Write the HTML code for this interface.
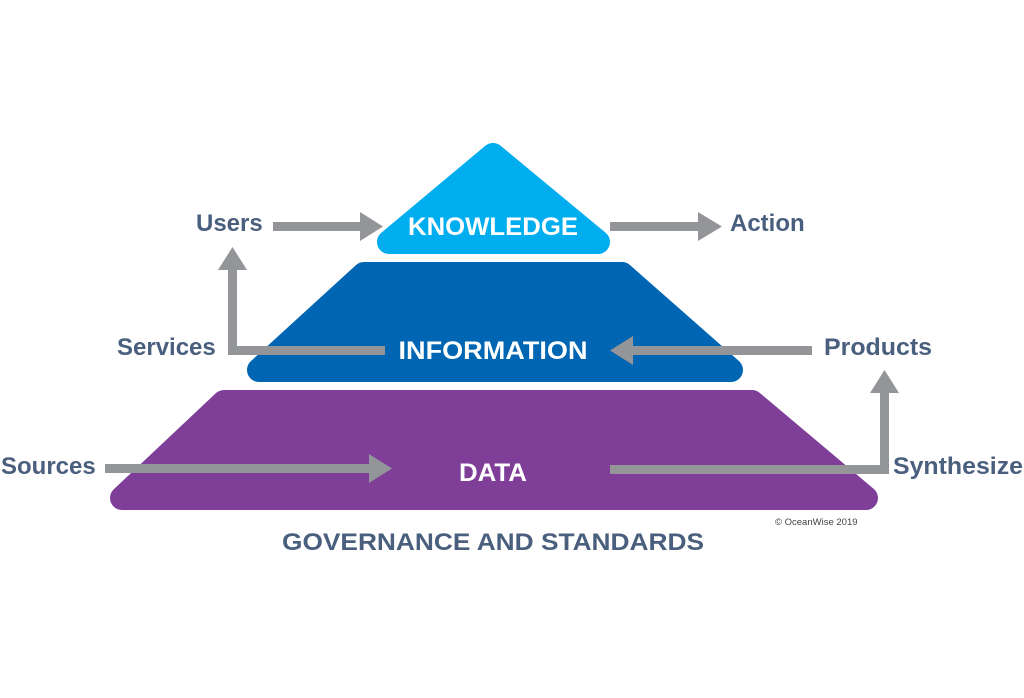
<!DOCTYPE html>
<html><head><style>
html,body{margin:0;padding:0;background:#fff;}
svg{display:block;}
text{font-family:"Liberation Sans",sans-serif;font-weight:bold;}
</style></head><body>
<svg width="1024" height="698" viewBox="0 0 1024 698" xmlns="http://www.w3.org/2000/svg">
<rect width="1024" height="698" fill="#fff"/>
<!-- Data -->
<polygon points="224,402 752,402 866,498 122,498" fill="#7f3f98" stroke="#7f3f98" stroke-width="24" stroke-linejoin="round"/>
<!-- Information -->
<polygon points="364,274 622,274 731,370 259,370" fill="#0066b3" stroke="#0066b3" stroke-width="24" stroke-linejoin="round"/>
<!-- Knowledge -->
<polygon points="493,155 598,242 389,242" fill="#00aeef" stroke="#00aeef" stroke-width="24" stroke-linejoin="round"/>

<g fill="#939598" stroke="none">
<rect x="273" y="222" width="92" height="9"/>
<polygon points="360,212 383,226.5 360,241"/>
<rect x="610" y="222" width="92" height="9"/>
<polygon points="698,212 722,226.5 698,241"/>
<rect x="228" y="346" width="157" height="9"/>
<rect x="228" y="268" width="9" height="87"/>
<polygon points="218,270 232.5,247 247,270"/>
<rect x="630" y="346" width="182" height="9"/>
<polygon points="633,336 610,350.5 633,365"/>
<rect x="105" y="464" width="270" height="9"/>
<polygon points="369,454 392,468.5 369,483"/>
<rect x="610" y="465" width="279" height="9"/>
<rect x="880" y="390" width="9" height="84"/>
<polygon points="870,393 884.5,370 899,393"/>
</g>

<g fill="#fff" font-size="25" text-anchor="middle">
<text x="493" y="235" textLength="170" lengthAdjust="spacingAndGlyphs">KNOWLEDGE</text>
<text x="493" y="359" textLength="189" lengthAdjust="spacingAndGlyphs">INFORMATION</text>
<text x="493" y="481" textLength="68" lengthAdjust="spacingAndGlyphs">DATA</text>
</g>
<g fill="#4a5f7e" font-size="24">
<text x="196" y="231">Users</text>
<text x="730" y="231">Action</text>
<text x="117" y="355">Services</text>
<text x="824" y="355" textLength="108" lengthAdjust="spacingAndGlyphs">Products</text>
<text x="1" y="474">Sources</text>
<text x="893" y="474" textLength="130" lengthAdjust="spacingAndGlyphs">Synthesize</text>
<text x="282" y="550" font-size="24" textLength="422" lengthAdjust="spacingAndGlyphs">GOVERNANCE AND STANDARDS</text>
</g>
<text x="775" y="525" font-size="9.5" fill="#444" style="font-weight:normal">© OceanWise 2019</text>
</svg>
</body></html>
